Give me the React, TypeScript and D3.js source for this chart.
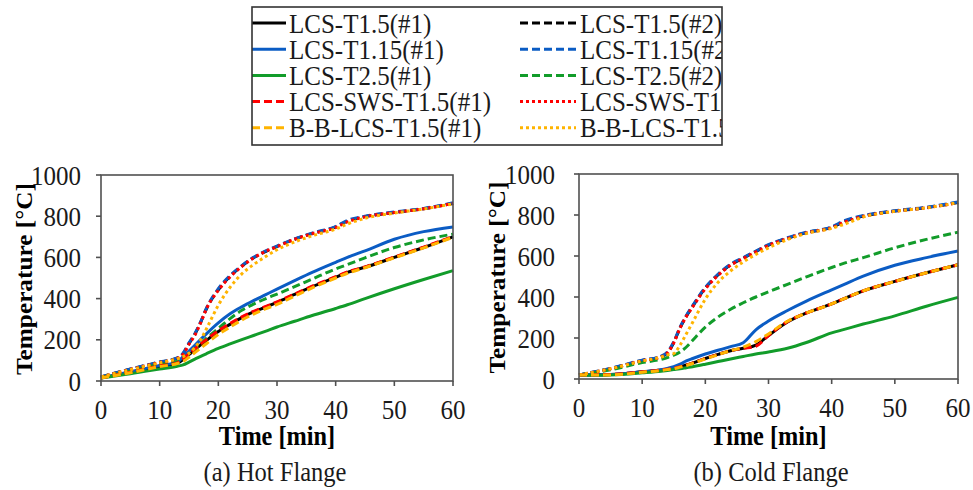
import React from "react";
import * as d3 from "d3";

// ---------- data ----------
const TIME = [0, 5, 10, 13, 14, 15, 16, 17, 18, 20, 22, 24, 26, 28, 30, 33, 36, 40, 42, 45, 50, 55, 60];

const SERIES_NAMES = [
  "LCS-T1.5(#1)", "LCS-T1.5(#2)",
  "LCS-T1.15(#1)", "LCS-T1.15(#2)",
  "LCS-T2.5(#1)", "LCS-T2.5(#2)",
  "LCS-SWS-T1.5(#1)", "LCS-SWS-T1.5(#2)",
  "B-B-LCS-T1.5(#1)", "B-B-LCS-T1.5(#2)",
];

// (a) Hot Flange
const HOT_T15_1 = [15, 42, 72, 86, 105, 128, 152, 176, 198, 240, 275, 308, 335, 358, 382, 420, 458, 504, 527, 552, 600, 648, 700];
const HOT_T15_2 = [20, 57, 91, 111, 133, 182, 227, 286, 352, 443, 508, 558, 598, 628, 653, 688, 716, 748, 776, 798, 818, 836, 862];
const HOT_T115_1 = [15, 45, 75, 92, 118, 145, 173, 202, 230, 282, 326, 360, 390, 418, 446, 487, 527, 576, 600, 632, 688, 725, 748];
const HOT_T115_2 = [20, 58, 92, 112, 135, 185, 230, 288, 355, 448, 512, 560, 600, 630, 655, 690, 718, 750, 780, 800, 820, 838, 865];
const HOT_T25_1 = [15, 35, 58, 72, 78, 92, 106, 120, 133, 158, 180, 201, 221, 241, 262, 290, 318, 352, 370, 400, 448, 493, 536];
const HOT_T25_2 = [18, 48, 80, 95, 110, 130, 155, 180, 208, 255, 303, 343, 373, 399, 422, 458, 495, 544, 565, 598, 648, 685, 713];
const HOT_SWS_1 = [15, 43, 73, 88, 108, 132, 156, 180, 202, 244, 279, 311, 338, 361, 384, 422, 460, 506, 529, 554, 602, 650, 702];
const HOT_SWS_2 = [20, 56, 90, 110, 130, 178, 222, 283, 352, 440, 505, 556, 597, 628, 652, 688, 715, 745, 772, 797, 818, 836, 862];
const HOT_BB_1 = [15, 40, 70, 85, 95, 115, 138, 160, 182, 226, 262, 296, 325, 350, 372, 412, 452, 500, 523, 550, 598, 646, 698];
const HOT_BB_2 = [20, 55, 88, 108, 118, 135, 162, 200, 255, 368, 455, 520, 565, 603, 637, 675, 705, 738, 762, 790, 815, 835, 860];

// (b) Cold Flange
const COLD_T15_1 = [20, 22, 35, 44, 48, 52, 60, 68, 78, 100, 120, 138, 150, 165, 212, 278, 322, 366, 392, 430, 476, 518, 557];
const COLD_T15_2 = [20, 51, 90, 109, 128, 178, 250, 307, 355, 444, 508, 557, 590, 622, 653, 687, 714, 740, 768, 795, 819, 836, 861];
const COLD_T115_1 = [20, 22, 36, 45, 52, 60, 72, 88, 100, 122, 140, 158, 177, 240, 283, 334, 380, 435, 462, 502, 555, 592, 624];
const COLD_T115_2 = [20, 52, 92, 111, 132, 181, 253, 310, 358, 447, 511, 560, 592, 624, 655, 689, 716, 742, 772, 797, 821, 838, 864];
const COLD_T25_1 = [18, 20, 30, 38, 42, 46, 50, 55, 60, 72, 85, 98, 110, 122, 132, 150, 178, 225, 242, 268, 308, 355, 398];
const COLD_T25_2 = [20, 45, 80, 96, 105, 116, 132, 156, 189, 253, 302, 340, 372, 400, 425, 462, 498, 544, 565, 592, 640, 681, 716];
const COLD_SWS_1 = [20, 22, 35, 44, 48, 52, 60, 68, 78, 100, 120, 138, 150, 160, 212, 280, 322, 366, 392, 430, 476, 518, 557];
const COLD_SWS_2 = [20, 50, 89, 108, 127, 176, 248, 305, 352, 440, 505, 555, 588, 620, 651, 685, 713, 738, 765, 793, 818, 835, 860];
const COLD_BB_1 = [20, 20, 33, 42, 46, 50, 58, 66, 76, 98, 118, 138, 155, 182, 220, 282, 322, 366, 392, 430, 476, 518, 557];
const COLD_BB_2 = [20, 50, 88, 107, 118, 124, 165, 221, 277, 390, 471, 527, 571, 608, 640, 680, 710, 735, 755, 790, 818, 835, 860];

const HOT_SERIES = [HOT_T15_1, HOT_T15_2, HOT_T115_1, HOT_T115_2, HOT_T25_1, HOT_T25_2, HOT_SWS_1, HOT_SWS_2, HOT_BB_1, HOT_BB_2];
const COLD_SERIES = [COLD_T15_1, COLD_T15_2, COLD_T115_1, COLD_T115_2, COLD_T25_1, COLD_T25_2, COLD_SWS_1, COLD_SWS_2, COLD_BB_1, COLD_BB_2];

const X_TICKS = [0, 10, 20, 30, 40, 50, 60];
const Y_TICKS = [0, 200, 400, 600, 800, 1000];

// ---------- styles ----------
const BLACK = "#000000";
const BLUE = "#0b5cc4";
const GREEN = "#129c2a";
const RED = "#ff0000";
const ORANGE = "#ffb400";
const DASH = "8,4";
const DOT = "3,3";
const STYLES = [
  { color: BLACK, dash: null },
  { color: BLACK, dash: DASH },
  { color: BLUE, dash: null },
  { color: BLUE, dash: DASH },
  { color: GREEN, dash: null },
  { color: GREEN, dash: DASH },
  { color: RED, dash: DASH },
  { color: RED, dash: DOT },
  { color: ORANGE, dash: DASH },
  { color: ORANGE, dash: DOT },
];

const FONT = "'Liberation Serif', 'Times New Roman', serif";
const AXIS_COLOR = "#505050";
const TEXT_COLOR = "#1a1a1a";
const SY = 1.1; // vertical stretch of the reference typography

type TProps = {
  x: number; y: number; size: number; anchor?: string; bold?: boolean; children: React.ReactNode;
};
function T({ x, y, size, anchor = "start", bold = false, children }: TProps) {
  return (
    <text
      transform={`translate(${x},${y}) scale(1,${SY})`}
      dy="0.35em"
      textAnchor={anchor}
      fontSize={size}
      fontWeight={bold ? "bold" : "normal"}
      fontFamily={FONT}
      fill={bold ? BLACK : TEXT_COLOR}
    >
      {children}
    </text>
  );
}

type PanelProps = {
  x0: number; x1: number; y0: number; y1: number;
  series: number[][];
  labelEnd: number; yTitleX: number; subtitle: string; subX: number;
};

function Panel({ x0, x1, y0, y1, series, labelEnd, yTitleX, subtitle, subX }: PanelProps) {
  const xs = d3.scaleLinear().domain([0, 60]).range([x0, x1]);
  const ys = d3.scaleLinear().domain([0, 1000]).range([y1, y0]);
  const line = d3
    .line<number>()
    .x((_, i) => xs(TIME[i]))
    .y((v) => ys(v))
    .curve(d3.curveMonotoneX);
  const cx = (x0 + x1) / 2;
  const cy = (y0 + y1) / 2;
  return (
    <g>
      {series.map((vals, i) => (
        <path
          key={i}
          d={line(vals) || ""}
          fill="none"
          stroke={STYLES[i].color}
          strokeWidth={3}
          strokeDasharray={STYLES[i].dash || undefined}
        />
      ))}
      <rect x={x0} y={y0} width={x1 - x0} height={y1 - y0} fill="none" stroke={AXIS_COLOR} strokeWidth={1.6} />
      {Y_TICKS.map((t) => (
        <g key={"y" + t}>
          <line x1={x0 - 5} x2={x0} y1={ys(t)} y2={ys(t)} stroke={AXIS_COLOR} strokeWidth={1.6} />
          <T x={labelEnd} y={ys(t)} size={25} anchor="end">{t}</T>
        </g>
      ))}
      {X_TICKS.map((t) => (
        <g key={"x" + t}>
          <line x1={xs(t)} x2={xs(t)} y1={y1} y2={y1 + 5} stroke={AXIS_COLOR} strokeWidth={1.6} />
          <T x={xs(t)} y={y1 + 28} size={25} anchor="middle">{t}</T>
        </g>
      ))}
      <T x={cx} y={436} size={24.3} anchor="middle" bold>Time [min]</T>
      <text
        transform={`translate(${yTitleX},${cy + 1}) rotate(-90) scale(${SY},1)`}
        dy="0.35em"
        textAnchor="middle"
        fontSize={23}
        fontWeight="bold"
        fontFamily={FONT}
        fill={BLACK}
      >
        Temperature [°C]
      </text>
      <T x={subX} y={472} size={24.5} anchor="middle">{subtitle}</T>
    </g>
  );
}

function Legend() {
  const bx = 252, by = 7, bw = 470, bh = 138;
  const rowY = (i: number) => 23 + i * 26.2;
  const cols = [
    { lx0: 228, lx1: 286, tx: 289 },
    { lx0: 520, lx1: 576, tx: 580 },
  ];
  return (
    <g>
      <defs>
        <clipPath id="legclip">
          <rect x={bx} y={by} width={bw} height={bh} />
        </clipPath>
      </defs>
      <g clipPath="url(#legclip)">
        {SERIES_NAMES.map((name, i) => {
          const col = cols[i % 2];
          const row = Math.floor(i / 2);
          const st = STYLES[i];
          return (
            <g key={name}>
              <line
                x1={col.lx0}
                x2={col.lx1}
                y1={rowY(row)}
                y2={rowY(row)}
                stroke={st.color}
                strokeWidth={3}
                strokeDasharray={st.dash || undefined}
              />
              <T x={col.tx} y={rowY(row)} size={25}>{name}</T>
            </g>
          );
        })}
      </g>
      <rect x={bx} y={by} width={bw} height={bh} fill="none" stroke="#333" strokeWidth={1.6} />
    </g>
  );
}

export default function App() {
  return (
    <svg
      width={973}
      height={490}
      viewBox="0 0 973 490"
      style={{ position: "absolute", left: 0, top: 0, background: "#fff" }}
    >
      <rect x={0} y={0} width={973} height={490} fill="#fff" />
      <Legend />
      <Panel x0={101} x1={453} y0={175} y1={381} series={HOT_SERIES} labelEnd={81} yTitleX={24} subtitle="(a) Hot Flange" subX={275} />
      <Panel x0={579} x1={958} y0={174} y1={379} series={COLD_SERIES} labelEnd={555} yTitleX={497} subtitle="(b) Cold Flange" subX={771} />
    </svg>
  );
}
